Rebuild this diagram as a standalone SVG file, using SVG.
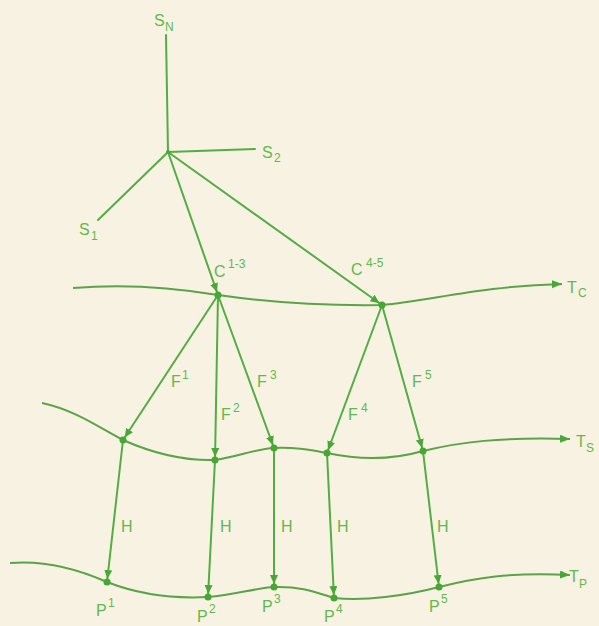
<svg xmlns="http://www.w3.org/2000/svg" width="599" height="626" viewBox="0 0 599 626">
<style>
.bg{fill:#f8f2e3}
.ln{fill:none;stroke:#52ae42;stroke-width:2;stroke-linecap:round}
.cv{fill:none;stroke:#5aa447;stroke-width:2}
.dot{fill:#45a834}
.t{font-family:"Liberation Sans","DejaVu Sans",sans-serif;fill:#62b84c;font-size:16px}
.s{font-size:12px}
</style>
<defs>
<marker id="ah" markerUnits="userSpaceOnUse" markerWidth="14" markerHeight="10" refX="12" refY="4" orient="auto">
<path d="M0,0 L9,4 L0,8 z" fill="#48a836"/>
</marker>
<marker id="ae" markerUnits="userSpaceOnUse" markerWidth="12" markerHeight="10" refX="10" refY="4" orient="auto">
<path d="M0,0 L10,4 L0,8 z" fill="#48a836"/>
</marker>
</defs>
<rect class="bg" x="0" y="0" width="599" height="626"/>

<g id="curves">
<path id="TC" class="cv" marker-end="url(#ae)" d="M73,288 C120,284 170,287 218,295 C260,301 320,306 382,305 C430,301 480,286 562,284"/>
<path id="TS" class="cv" marker-end="url(#ae)" d="M42,403 C75,410 100,428 123,440 C150,452 180,461 215,460 C240,456 255,449 274,448 C295,447 310,450 327,453 C350,458 385,462 423,451 C460,442 500,437 570,439"/>
<path id="TP" class="cv" marker-end="url(#ae)" d="M10,563 C45,560 80,570 107,582 C135,593 170,599 208,597 C235,595 255,588 274,587 C300,586 315,592 334,598 C365,601 405,596 439,587 C475,578 510,572 570,575"/>
</g>

<g id="connectors">
<line class="ln" x1="166" y1="35" x2="168" y2="152"/>
<line class="ln" x1="168" y1="152" x2="255" y2="149"/>
<line class="ln" x1="168" y1="152" x2="98" y2="220"/>
<line class="ln" x1="168" y1="152" x2="218" y2="295" marker-end="url(#ah)"/>
<line class="ln" x1="168" y1="152" x2="382" y2="305" marker-end="url(#ah)"/>
<line class="ln" x1="218" y1="295" x2="123" y2="440" marker-end="url(#ah)"/>
<line class="ln" x1="218" y1="295" x2="215" y2="460" marker-end="url(#ah)"/>
<line class="ln" x1="218" y1="295" x2="274" y2="448" marker-end="url(#ah)"/>
<line class="ln" x1="382" y1="305" x2="327" y2="453" marker-end="url(#ah)"/>
<line class="ln" x1="382" y1="305" x2="423" y2="451" marker-end="url(#ah)"/>
<line class="ln" x1="123" y1="440" x2="107" y2="582" marker-end="url(#ah)"/>
<line class="ln" x1="215" y1="460" x2="208" y2="597" marker-end="url(#ah)"/>
<line class="ln" x1="274" y1="448" x2="274" y2="587" marker-end="url(#ah)"/>
<line class="ln" x1="327" y1="453" x2="334" y2="598" marker-end="url(#ah)"/>
<line class="ln" x1="423" y1="451" x2="439" y2="587" marker-end="url(#ah)"/>
</g>

<g id="hub"><circle class="dot" cx="168" cy="152" r="2"/></g>
<g id="C1-3"><circle class="dot" cx="218" cy="295" r="3.5"/></g>
<g id="C4-5"><circle class="dot" cx="382" cy="305" r="3.5"/></g>
<g id="s1n"><circle class="dot" cx="123" cy="440" r="3.5"/></g>
<g id="s2n"><circle class="dot" cx="215" cy="460" r="3.5"/></g>
<g id="s3n"><circle class="dot" cx="274" cy="448" r="3.5"/></g>
<g id="s4n"><circle class="dot" cx="327" cy="453" r="3.5"/></g>
<g id="s5n"><circle class="dot" cx="423" cy="451" r="3.5"/></g>
<g id="P1"><circle class="dot" cx="107" cy="582" r="3.5"/></g>
<g id="P2"><circle class="dot" cx="208" cy="597" r="3.5"/></g>
<g id="P3"><circle class="dot" cx="274" cy="587" r="3.5"/></g>
<g id="P4"><circle class="dot" cx="334" cy="598" r="3.5"/></g>
<g id="P5"><circle class="dot" cx="439" cy="587" r="3.5"/></g>

<g id="labels" class="t">
<text x="154" y="26">S</text><text class="s" x="165" y="31">N</text>
<text x="262" y="158">S</text><text class="s" x="274" y="162">2</text>
<text x="79" y="235">S</text><text class="s" x="91" y="240">1</text>
<text x="214" y="277">C</text><text class="s" x="228" y="268">1-3</text>
<text x="351" y="275">C</text><text class="s" x="366" y="267">4-5</text>
<text x="567" y="293">T</text><text class="s" x="578" y="297">C</text>
<text x="576" y="447">T</text><text class="s" x="586" y="452">S</text>
<text x="569" y="582">T</text><text class="s" x="579" y="588">P</text>
<text x="171" y="387">F</text><text class="s" x="182" y="379">1</text>
<text x="221" y="420">F</text><text class="s" x="233" y="412">2</text>
<text x="257" y="387">F</text><text class="s" x="270" y="379">3</text>
<text x="348" y="420">F</text><text class="s" x="361" y="412">4</text>
<text x="412" y="387">F</text><text class="s" x="425" y="379">5</text>
<text x="121" y="532">H</text>
<text x="220" y="532">H</text>
<text x="281" y="532">H</text>
<text x="337" y="532">H</text>
<text x="437" y="532">H</text>
<text x="96" y="616">P</text><text class="s" x="108" y="607">1</text>
<text x="197" y="622">P</text><text class="s" x="209" y="613">2</text>
<text x="262" y="612">P</text><text class="s" x="274" y="603">3</text>
<text x="324" y="622">P</text><text class="s" x="336" y="613">4</text>
<text x="429" y="612">P</text><text class="s" x="441" y="603">5</text>
</g>
</svg>
